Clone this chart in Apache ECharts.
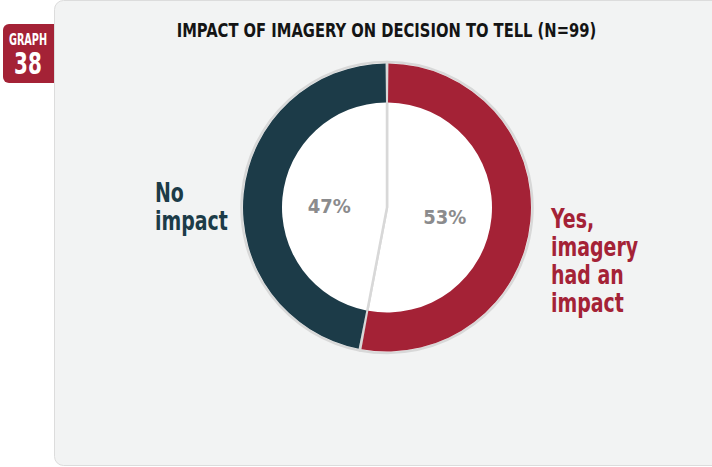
<!DOCTYPE html>
<html>
<head>
<meta charset="utf-8">
<script src="https://cdn.jsdelivr.net/npm/echarts@6/dist/echarts.min.js"></script>
<style>
  html, body { margin: 0; padding: 0; background: #ffffff; }
  #chart { width: 712px; height: 467px; }
</style>
</head>
<body>
<div id="chart"></div>
<script>
// Survey answers: share of respondents (n = 99)
const categories = ['Yes, imagery had an impact', 'No impact'];
const sideLabels = ['Yes,\nimagery\nhad an\nimpact', 'No\nimpact'];
const shares = [53, 47];
const colors = ['#a42236', '#1c3b48'];
const titleText = 'IMPACT OF IMAGERY ON DECISION TO TELL (N=99)';
const badgeTop = 'GRAPH';
const badgeNumber = '38';

const FONT = "'DejaVu Sans Condensed', 'DejaVu Sans', sans-serif";
const CX = 387, CY = 207.5;

const data = categories.map((name, i) => ({ name, value: shares[i] }));

// condensed text helper: horizontal squeeze around the anchor point
function squeezed(x, y, text, font, fill, sx, align, vAlign, extra) {
  return {
    type: 'text', z: 3, x, y, scaleX: sx, scaleY: 1,
    style: Object.assign({ x: 0, y: 0, text, font, fill, align, verticalAlign: vAlign }, extra || {})
  };
}

const chart = echarts.init(document.getElementById('chart'), null, { renderer: 'svg' });

chart.setOption({
  animation: false,
  backgroundColor: '#ffffff',
  graphic: [
    // red badge, partly tucked under the panel
    { type: 'rect', z: 0, shape: { x: 3, y: 24, width: 60, height: 59, r: 6 }, style: { fill: '#a42236' } },
    Object.assign(squeezed(28, 40, badgeTop, 'bold 15px ' + FONT, '#ffffff', 0.72, 'center', 'middle'), { z: 1 }),
    Object.assign(squeezed(28, 64, badgeNumber, 'bold 30px ' + FONT, '#ffffff', 0.74, 'center', 'middle'), { z: 1 }),
    // light grey panel
    { type: 'rect', z: 2, shape: { x: 54.5, y: 0.5, width: 700, height: 465, r: 9 }, style: { fill: '#f2f3f3', stroke: '#dcdcdc', lineWidth: 1 } },
    squeezed(386.5, 30, titleText, 'bold 20px ' + FONT, '#141414', 0.82, 'center', 'middle'),
    squeezed(155, 179, sideLabels[1], 'bold 27px ' + FONT, colors[1], 0.78, 'left', 'top', { lineHeight: 28 }),
    squeezed(551, 205, sideLabels[0], 'bold 27px ' + FONT, colors[0], 0.78, 'left', 'top', { lineHeight: 28 })
  ],
  series: [
    {
      // white disc with grey rim and slice dividers
      type: 'pie', z: 3, silent: true, center: [CX, CY], radius: [0, 145.5],
      startAngle: 90, clockwise: true, avoidLabelOverlap: false,
      label: { show: false }, labelLine: { show: false },
      itemStyle: { color: '#ffffff', borderColor: '#d8d8d8', borderWidth: 2.5 },
      data
    },
    {
      // coloured ring
      type: 'pie', z: 4, silent: true, center: [CX, CY], radius: [105, 144],
      startAngle: 90, clockwise: true, padAngle: 1.1, avoidLabelOverlap: false,
      label: { show: false }, labelLine: { show: false },
      itemStyle: { color: (p) => colors[p.dataIndex], borderWidth: 0 },
      data
    },
    {
      // percentage labels inside the white disc
      type: 'pie', z: 5, silent: true, center: [CX, CY + 4], radius: [0, 110],
      startAngle: 90, clockwise: true, avoidLabelOverlap: false,
      itemStyle: { color: 'rgba(0,0,0,0)', borderWidth: 0 },
      label: {
        show: true, position: 'inside', formatter: '{c}%',
        fontFamily: "'DejaVu Sans Condensed', 'DejaVu Sans', sans-serif",
        fontWeight: 'bold', fontSize: 20, color: '#8b8b8d'
      },
      labelLine: { show: false },
      data
    }
  ]
});
</script>
</body>
</html>
